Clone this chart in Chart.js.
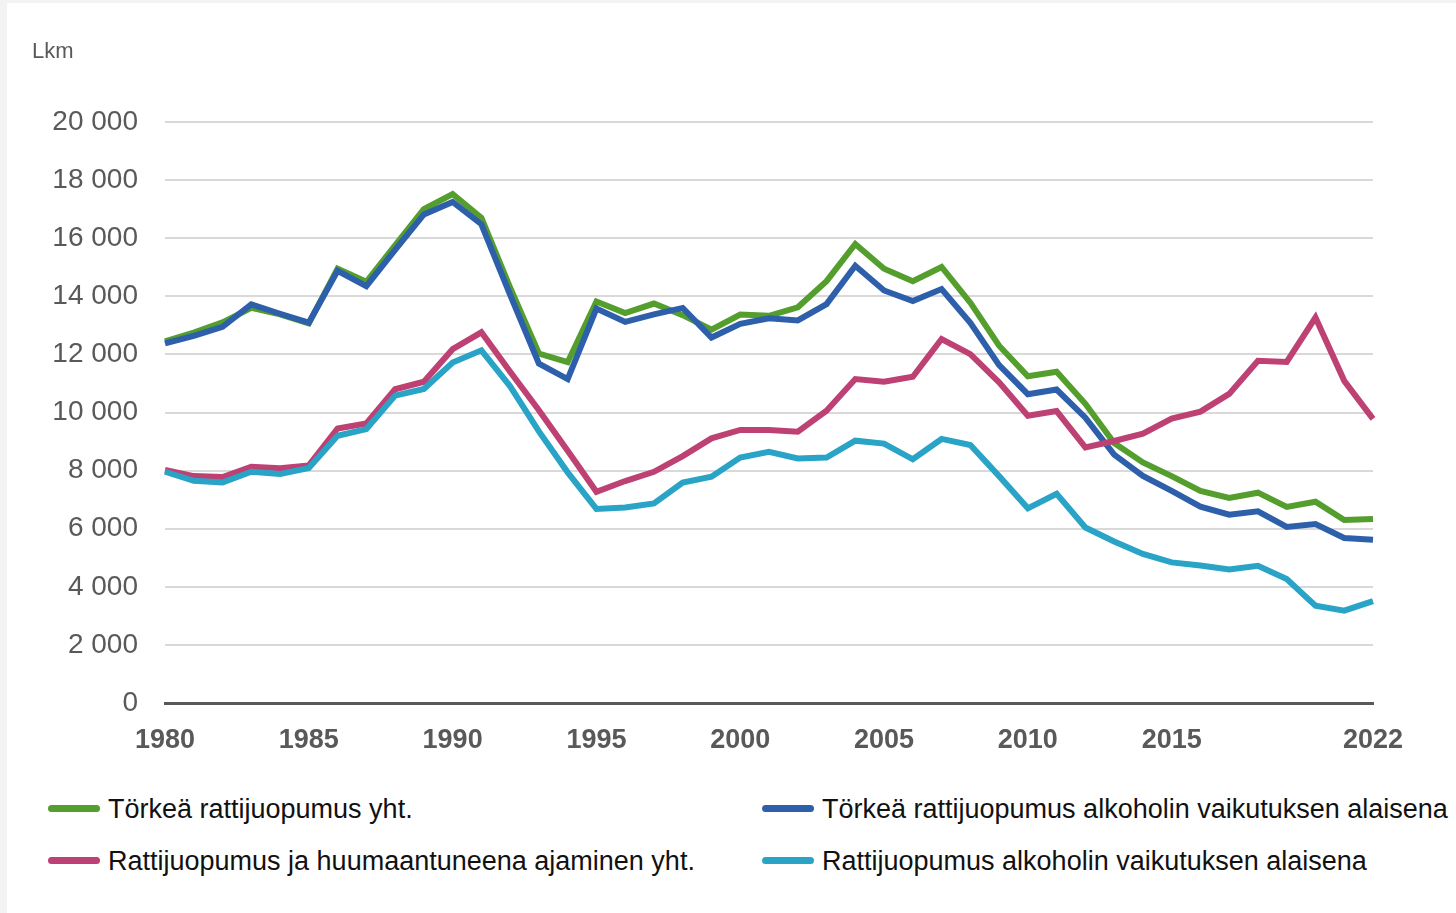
<!DOCTYPE html>
<html>
<head>
<meta charset="utf-8">
<script src="https://cdn.jsdelivr.net/npm/chart.js@4"></script>
<style>
    body { margin: 0; background: #fff; width: 1456px; height: 913px; overflow: hidden; position: relative; }
    #edgeLeft { position: absolute; left: 0; top: 0; width: 7px; height: 913px; background: #f3f3f3; }
    #edgeTop { position: absolute; left: 0; top: 0; width: 1456px; height: 3px; background: #f3f3f3; }
    #chartBox { position: absolute; left: 0; top: 0; width: 1456px; height: 770px; }
    #unit { position: absolute; left: 32px; top: 38px; font: 22px "Liberation Sans", Arial, sans-serif; color: #595959; }
    .item { position: absolute; font: 27px "Liberation Sans", Arial, sans-serif; color: #111; white-space: nowrap; line-height: 30px; }
    .item span { display: inline-block; width: 52px; height: 7px; border-radius: 4px; vertical-align: middle; margin-right: 8px; position: relative; top: -2px; }
</style>
</head>
<body>
<div id="edgeLeft"></div>
<div id="edgeTop"></div>
<div id="chartBox"><canvas id="driveChart"></canvas></div>
<div id="unit">Lkm</div>
<div id="legend"></div>
<script>
// years and ticks
const years = [];
for (let y = 1980; y <= 2022; y++) years.push(y);
const shownYears = [1980, 1985, 1990, 1995, 2000, 2005, 2010, 2015, 2022];

// series, 1980-2022
const torkeaYht = [12450, 12750, 13100, 13600, 13380, 13070, 14950, 14500, 15750, 17000,
    17520, 16700, 14300, 12030, 11730, 13820, 13420, 13750, 13350, 12850,
    13370, 13330, 13620, 14520, 15800, 14950, 14520, 15010, 13780, 12300,
    11250, 11400, 10300, 8950, 8280, 7810, 7300, 7060, 7240, 6750,
    6930, 6300, 6330];
const torkeaAlkoholi = [12380, 12640, 12950, 13720, 13400, 13090, 14880, 14350, 15600, 16820,
    17250, 16480, 14050, 11680, 11150, 13580, 13120, 13380, 13600, 12580,
    13050, 13240, 13170, 13730, 15050, 14200, 13840, 14250, 13090, 11630,
    10630, 10790, 9820, 8550, 7820, 7300, 6760, 6480, 6600, 6060,
    6160, 5680, 5620];
const rattiHuumeYht = [8020, 7810, 7780, 8130, 8080, 8180, 9450, 9620, 10800, 11060,
    12180, 12760, 11400, 10080, 8680, 7270, 7640, 7960, 8500, 9110,
    9400, 9400, 9340, 10060, 11150, 11060, 11230, 12530, 12010, 11040,
    9890, 10050, 8800, 9020, 9270, 9790, 10030, 10640, 11780, 11740,
    13270, 11090, 9780];
const rattiAlkoholi = [7960, 7650, 7590, 7960, 7880, 8090, 9200, 9430, 10580, 10810,
    11720, 12140, 10900, 9350, 7940, 6680, 6730, 6870, 7590, 7790,
    8450, 8650, 8420, 8450, 9030, 8930, 8390, 9090, 8880, 7810,
    6700, 7200, 6040, 5560, 5130, 4840, 4730, 4600, 4720, 4270,
    3350, 3180, 3510];

const series = [
    { label: 'Törkeä rattijuopumus yht.', data: torkeaYht, color: 'rgb(84, 158, 46)', order: 4 },
    { label: 'Törkeä rattijuopumus alkoholin vaikutuksen alaisena', data: torkeaAlkoholi, color: 'rgb(46, 95, 170)', order: 3 },
    { label: 'Rattijuopumus ja huumaantuneena ajaminen yht.', data: rattiHuumeYht, color: 'rgb(190, 65, 115)', order: 2 },
    { label: 'Rattijuopumus alkoholin vaikutuksen alaisena', data: rattiAlkoholi, color: 'rgb(41, 163, 198)', order: 1 }
];

const fmt = v => String(v).replace(/\B(?=(\d{3})+(?!\d))/g, ' ');

const ctx = document.getElementById('driveChart').getContext('2d');
const driveChart = new Chart(ctx, {
    type: 'line',
    data: {
        labels: years,
        datasets: series.map(s => ({
            label: s.label,
            data: s.data,
            borderColor: s.color,
            backgroundColor: s.color,
            borderWidth: 6,
            pointRadius: 0,
            tension: 0,
            fill: false,
            order: s.order
        }))
    },
    options: {
        responsive: true,
        maintainAspectRatio: false,
        animation: false,
        layout: {
            padding: { left: 0, right: 83, top: 122, bottom: 0 }
        },
        scales: {
            x: {
                grid: { display: false, drawTicks: false },
                border: { display: true, color: '#595959', width: 3 },
                ticks: {
                    autoSkip: false,
                    maxRotation: 0,
                    padding: 21,
                    color: '#595959',
                    font: { family: 'Liberation Sans', size: 27, weight: 'bold' },
                    callback: function(val, i) {
                        const y = years[i];
                        return shownYears.includes(y) ? String(y) : null;
                    }
                },
                afterFit: function(scale) { scale.height = 67; }
            },
            y: {
                min: 0,
                max: 20000,
                grid: { color: '#d9d9d9', lineWidth: 2, drawTicks: false },
                border: { display: false },
                ticks: {
                    stepSize: 2000,
                    padding: 27,
                    color: '#595959',
                    font: { family: 'Liberation Sans', size: 28 },
                    callback: v => fmt(v)
                },
                afterFit: function(scale) { scale.width = 165; }
            }
        },
        plugins: {
            legend: { display: false },
            tooltip: { enabled: false }
        }
    }
});

// legend in two columns
const legendPos = [[48, 794], [762, 794], [48, 846], [762, 846]];
const legend = document.getElementById('legend');
series.forEach((s, i) => {
    const el = document.createElement('div');
    el.className = 'item';
    el.style.left = legendPos[i][0] + 'px';
    el.style.top = legendPos[i][1] + 'px';
    el.innerHTML = '<span style="background:' + s.color + '"></span>' + s.label;
    legend.appendChild(el);
});
</script>
</body>
</html>
